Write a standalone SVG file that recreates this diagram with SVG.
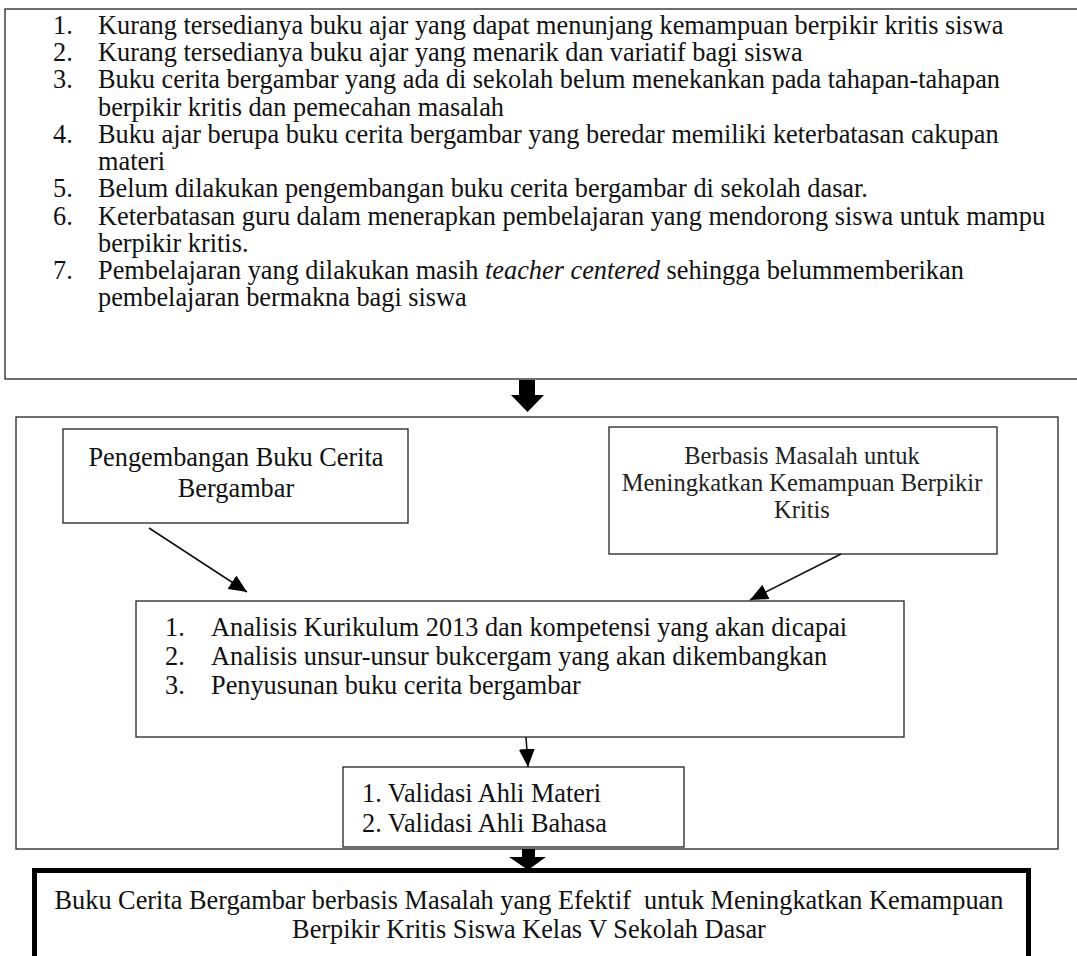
<svg xmlns="http://www.w3.org/2000/svg" width="1077" height="956" viewBox="0 0 1077 956">
<defs>
<style>
.t{font-family:"Liberation Serif","Times New Roman",serif;font-size:26.3px;fill:#111;white-space:pre}
.s{font-family:"Liberation Serif","Times New Roman",serif;font-size:24.5px;fill:#222;white-space:pre}
.box{fill:#fff;stroke:#222;stroke-width:1.3}
.ln{stroke:#111;stroke-width:1.6;fill:none}
.blk{fill:#000}
</style>
<marker id="ah" markerUnits="userSpaceOnUse" markerWidth="18" markerHeight="16" viewBox="0 0 18 16" refX="18" refY="8" orient="auto">
<path d="M0,0 L18,8 L0,16 Z" fill="#000"/>
</marker>
</defs>
<rect width="1077" height="956" fill="#fff"/>

<g id="problems">
<rect class="box" x="5" y="9" width="1080" height="370"/>
<text class="t" x="53" y="34">1.</text><text class="t" x="98" y="34">Kurang tersedianya buku ajar yang dapat menunjang kemampuan berpikir kritis siswa</text>
<text class="t" x="53" y="61">2.</text><text class="t" x="98" y="61">Kurang tersedianya buku ajar yang menarik dan variatif bagi siswa</text>
<text class="t" x="53" y="88">3.</text><text class="t" x="98" y="88">Buku cerita bergambar yang ada di sekolah belum menekankan pada tahapan-tahapan</text>
<text class="t" x="98" y="116">berpikir kritis dan pemecahan masalah</text>
<text class="t" x="53" y="143">4.</text><text class="t" x="98" y="143">Buku ajar berupa buku cerita bergambar yang beredar memiliki keterbatasan cakupan</text>
<text class="t" x="98" y="170">materi</text>
<text class="t" x="53" y="197">5.</text><text class="t" x="98" y="197">Belum dilakukan pengembangan buku cerita bergambar di sekolah dasar.</text>
<text class="t" x="53" y="225">6.</text><text class="t" x="98" y="225">Keterbatasan guru dalam menerapkan pembelajaran yang mendorong siswa untuk mampu</text>
<text class="t" x="98" y="252">berpikir kritis.</text>
<text class="t" x="53" y="279">7.</text><text class="t" x="98" y="279">Pembelajaran yang dilakukan masih <tspan font-style="italic">teacher centered</tspan> sehingga belummemberikan</text>
<text class="t" x="98" y="306">pembelajaran bermakna bagi siswa</text>
</g>

<g id="process">
<rect class="box" x="16" y="417" width="1042" height="432"/>
</g>

<g id="pengembangan">
<rect class="box" x="63" y="429" width="345" height="94"/>
<text class="t" x="236" y="466" text-anchor="middle">Pengembangan Buku Cerita</text>
<text class="t" x="236" y="497" text-anchor="middle">Bergambar</text>
</g>

<g id="berbasis">
<rect class="box" x="609" y="427" width="388" height="127"/>
<text class="s" x="802" y="464" text-anchor="middle">Berbasis Masalah untuk</text>
<text class="s" x="802" y="491" text-anchor="middle">Meningkatkan Kemampuan Berpikir</text>
<text class="s" x="802" y="518" text-anchor="middle">Kritis</text>
</g>

<g id="analisis">
<rect class="box" x="136" y="601" width="768" height="136"/>
<text class="t" x="165" y="636">1.</text><text class="t" x="211" y="636">Analisis Kurikulum 2013 dan kompetensi yang akan dicapai</text>
<text class="t" x="165" y="665">2.</text><text class="t" x="211" y="665">Analisis unsur-unsur bukcergam yang akan dikembangkan</text>
<text class="t" x="165" y="694">3.</text><text class="t" x="211" y="694">Penyusunan buku cerita bergambar</text>
</g>

<g id="validasi">
<rect class="box" x="343" y="767" width="341" height="80"/>
<text class="t" x="362" y="802">1. Validasi Ahli Materi</text>
<text class="t" x="362" y="832">2. Validasi Ahli Bahasa</text>
</g>

<g id="hasil">
<rect x="34.5" y="870.5" width="994" height="120" fill="#fff" stroke="#000" stroke-width="5"/>
<text class="t" x="529" y="909" text-anchor="middle">Buku Cerita Bergambar berbasis Masalah yang Efektif  untuk Meningkatkan Kemampuan</text>
<text class="t" x="529" y="938" text-anchor="middle">Berpikir Kritis Siswa Kelas V Sekolah Dasar</text>
</g>

<g id="connectors">
<path class="blk" d="M519,380 H535 V395 H544 L527.5,412 L511,395 H519 Z"/>
<line class="ln" x1="149" y1="528" x2="247" y2="592" marker-end="url(#ah)"/>
<line class="ln" x1="841" y1="554" x2="750" y2="600" marker-end="url(#ah)"/>
<line class="ln" x1="526" y1="737" x2="528" y2="767" marker-end="url(#ah)"/>
<path class="blk" d="M522,849 H535 V857 H546 L528,870 L509,857 H522 Z"/>
</g>
</svg>
